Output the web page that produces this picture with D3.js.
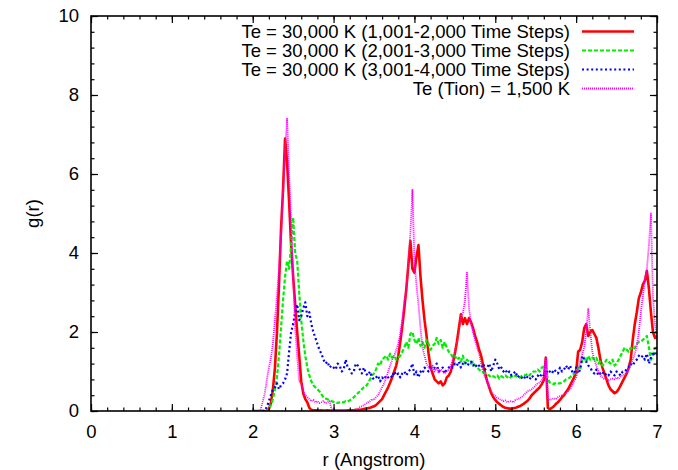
<!DOCTYPE html>
<html>
<head>
<meta charset="utf-8">
<script src="https://cdn.jsdelivr.net/npm/d3@7"></script>
<style>
  body { margin: 0; background: #fff; }
  svg text { font-family: "Liberation Sans", Arial, sans-serif; fill: #000; }
</style>
</head>
<body>
<svg id="chart" width="678" height="470"></svg>
<script>
// ---- Data ----
// every series sampled from r = 2.0 in steps of 0.025, four values per 0.1 A row
const rStart = 2.0;
const rStep = 0.025;

const seriesLabels = [
  "Te = 30,000 K (1,001-2,000 Time Steps)",
  "Te = 30,000 K (2,001-3,000 Time Steps)",
  "Te = 30,000 K (3,001-4,000 Time Steps)",
  "Te (Tion) = 1,500 K"
];

const red1 = [
  0, 0, 0, 0,            // 2.0
  0, 0, 0, 0,            // 2.1
  0.05, 0.2, 0.55, 1.1,  // 2.2
  2.0, 3.2, 4.6, 5.6,    // 2.3
  6.9, 6.3, 5.3, 4.2,    // 2.4
  3.4, 2.7, 2.0, 1.4,    // 2.5
  0.75, 0.45, 0.3, 0.22, // 2.6
  0.08, 0.03, 0.02, 0.02,
  0.02, 0.01, 0.02, 0.01,
  0.01, 0.02, 0.01, 0.01,
  0.01, 0.01, 0.01, 0.01, // 3.0
  0.01, 0.01, 0.01, 0.02,
  0.02, 0.02, 0.02, 0.03,
  0.03, 0.03, 0.04, 0.05,
  0.06, 0.07, 0.08, 0.1,
  0.12, 0.15, 0.2, 0.25,  // 3.5
  0.3, 0.4, 0.5, 0.6,
  0.72, 0.85, 1.0, 1.15,
  1.4, 1.75, 2.15, 2.6,
  3.1, 3.7, 4.3, 3.6,
  3.5, 3.9, 4.2, 3.4,     // 4.0
  2.8, 2.3, 1.9, 1.45,
  1.1, 0.95, 0.8, 0.75,
  0.7, 0.75, 0.65, 0.7,
  0.85, 0.9, 1.0, 1.2,
  1.45, 1.75, 2.1, 2.45,  // 4.5
  2.2, 2.35, 2.2, 2.35,
  2.25, 2.1, 1.9, 1.75,
  1.55, 1.4, 1.15, 0.95,
  0.75, 0.6, 0.45, 0.35,
  0.28, 0.22, 0.18, 0.14, // 5.0
  0.1, 0.08, 0.07, 0.06,
  0.06, 0.07, 0.08, 0.1,
  0.12, 0.15, 0.18, 0.22,
  0.26, 0.32, 0.4, 0.45,
  0.5, 0.55, 0.6, 0.68,   // 5.5
  0.78, 1.35, 0.08, 0.05,
  0.08, 0.12, 0.18, 0.22,
  0.28, 0.35, 0.4, 0.48,
  0.55, 0.65, 0.75, 0.85,
  1.0, 1.5, 1.55, 1.75,   // 6.0
  2.1, 2.2, 1.9, 2.0,
  2.05, 1.95, 1.85, 1.6,
  1.3, 1.1, 0.95, 0.8,
  0.65, 0.55, 0.5, 0.45,
  0.48, 0.55, 0.65, 0.75, // 6.5
  0.85, 0.95, 1.1, 1.3,
  1.8, 2.2, 2.5, 2.85,
  3.0, 3.2, 3.3, 3.55,
  3.1, 2.5, 2.0, 1.85,
  1.9                     // 7.0
];

const green2 = [
  0, 0, 0, 0,
  0, 0, 0, 0,
  0.05, 0.15, 0.3, 0.55,
  0.85, 1.4, 2.1, 2.8,
  3.4, 3.8, 3.6, 4.2,
  4.9, 4.0, 3.8, 3.0,
  2.3, 1.8, 1.4, 1.1,
  0.9, 0.75, 0.65, 0.6,
  0.55, 0.5, 0.42, 0.35,
  0.32, 0.3, 0.27, 0.25,
  0.23, 0.22, 0.2, 0.22,  // 3.0
  0.23, 0.22, 0.25, 0.24,
  0.27, 0.3, 0.35, 0.4,
  0.45, 0.5, 0.55, 0.6,
  0.62, 0.7, 0.8, 0.9,
  0.95, 1.05, 1.2, 1.15,
  1.3, 1.35, 1.4, 1.3,
  1.45, 1.35, 1.4, 1.3,
  1.35, 1.4, 1.5, 1.6,
  1.75, 1.6, 1.95, 2.0,
  1.8, 1.7, 1.85, 1.65,   // 4.0
  1.75, 1.6, 1.8, 1.7,
  1.55, 1.65, 1.7, 1.85,
  1.7, 1.8, 1.6, 1.75,
  1.6, 1.5, 1.45, 1.35,
  1.4, 1.3, 1.35, 1.25,
  1.4, 1.2, 1.3, 1.25,
  1.2, 1.25, 1.15, 1.1,
  1.05, 1.0, 0.98, 0.95,
  0.92, 0.9, 0.85, 0.88,
  0.85, 0.9, 0.82, 0.88,  // 5.0
  0.85, 0.9, 0.86, 0.82,
  0.88, 0.85, 0.9, 0.86,
  0.84, 0.88, 0.92, 0.9,
  0.95, 0.9, 0.98, 1.0,
  1.0, 1.05, 1.0, 1.1,
  1.12, 1.08, 0.8, 0.72,
  0.7, 0.68, 0.72, 0.7,
  0.7, 0.72, 0.75, 0.8,
  0.82, 0.85, 0.9, 0.95,
  1.0, 1.1, 1.05, 1.3,    // 6.0
  1.35, 1.25, 1.4, 1.3,
  1.35, 1.3, 1.35, 1.2,
  1.25, 1.15, 1.2, 1.3,
  1.25, 1.2, 1.3, 1.15,
  1.2, 1.3, 1.4, 1.5,
  1.6, 1.55, 1.5, 1.6,
  1.55, 1.6, 1.7, 1.75,
  1.75, 1.8, 1.85, 1.9,
  1.6, 1.3, 1.4, 1.6,
  1.6
];

const blue3 = [
  0, 0, 0, 0,
  0, 0, 0.02, 0.1,
  0.25, 0.4, 0.55, 0.6,
  0.7, 0.55, 0.65, 0.7,
  0.8, 0.95, 1.5, 2.0,
  2.2, 2.5, 2.7, 2.3,
  2.4, 2.6, 2.75, 2.4,
  2.5, 2.2, 2.0, 1.85,
  1.7, 1.55, 1.45, 1.3,
  1.2, 1.25, 1.1, 1.15,
  1.1, 1.05, 1.2, 1.15,   // 3.0
  1.0, 1.05, 1.3, 1.1,
  1.05, 0.95, 1.0, 1.2,
  1.15, 1.05, 0.95, 1.1,
  0.95, 0.9, 1.0, 0.85,
  0.8, 0.85, 0.9, 0.75,
  0.85, 0.8, 0.9, 0.85,
  0.9, 0.85, 1.0, 0.9,
  0.95, 0.85, 0.95, 1.0,
  0.9, 1.0, 1.05, 1.2,
  0.9, 1.0, 0.85, 1.0,    // 4.0
  0.95, 1.1, 1.05, 1.0,
  1.15, 1.05, 1.1, 1.2,
  1.0, 1.05, 1.1, 0.95,
  1.05, 1.1, 1.15, 1.1,
  1.2, 1.15, 1.25, 1.1,
  1.2, 1.25, 1.15, 1.2,
  1.25, 1.15, 1.2, 1.1,
  1.15, 1.1, 1.2, 1.05,
  1.1, 1.2, 1.0, 1.15,
  1.3, 1.2, 1.05, 1.1,    // 5.0
  1.0, 1.05, 0.95, 1.0,
  0.9, 0.95, 1.0, 0.85,
  0.9, 0.85, 0.8, 0.9,
  0.85, 0.8, 0.9, 0.85,
  0.8, 0.9, 0.85, 0.95,
  0.9, 1.05, 0.95, 1.0,
  0.95, 1.05, 1.0, 0.95,
  1.1, 1.0, 1.05, 1.15,
  1.05, 1.15, 1.0, 0.95,
  1.1, 0.95, 1.05, 1.4,   // 6.0
  1.3, 1.25, 1.15, 1.1,
  1.0, 0.95, 1.05, 0.9,
  0.95, 1.0, 0.9, 0.95,
  0.9, 1.0, 0.95, 0.9,
  1.0, 0.95, 0.9, 1.0,
  1.0, 1.05, 1.1, 1.2,
  1.15, 1.25, 1.3, 1.4,
  1.35, 1.4, 1.3, 1.45,
  1.2, 1.35, 1.5, 1.4,
  1.5
];

const magenta4 = [
  0, 0, 0, 0,
  0.05, 0.25, 0.45, 0.8,
  1.1, 1.35, 1.7, 2.3,
  2.9, 3.6, 4.4, 5.5,
  6.6, 7.4, 6.0, 4.8,
  3.4, 2.1, 1.4, 0.75,
  0.7, 0.5, 0.4, 0.35,
  0.3, 0.25, 0.28, 0.22,
  0.25, 0.2, 0.22, 0.25,
  0.2, 0.22, 0.25, 0.05,
  0, 0, 0, 0,             // 3.0
  0, 0, 0, 0,
  0, 0, 0, 0.02,
  0.05, 0.1, 0.12, 0.15,
  0.18, 0.22, 0.25, 0.3,
  0.28, 0.35, 0.4, 0.5,
  0.6, 0.7, 0.85, 1.0,
  1.15, 1.3, 1.4, 1.55,
  1.7, 1.95, 2.3, 2.8,
  3.0, 3.8, 4.5, 5.6,
  3.8, 3.2, 2.7, 2.1,     // 4.0
  1.6, 1.4, 1.2, 1.1,
  1.05, 1.15, 1.0, 1.1,
  0.95, 1.05, 1.0, 0.95,
  1.0, 1.05, 1.15, 1.3,
  1.5, 1.7, 2.0, 2.4,
  2.5, 2.8, 3.5, 2.6,
  2.2, 2.0, 1.8, 1.6,
  1.45, 1.2, 1.0, 0.85,
  0.75, 0.6, 0.5, 0.42,
  0.38, 0.33, 0.3, 0.28,  // 5.0
  0.25, 0.27, 0.22, 0.24,
  0.25, 0.22, 0.28, 0.3,
  0.32, 0.35, 0.4, 0.45,
  0.5, 0.52, 0.55, 0.6,
  0.65, 0.7, 0.72, 0.78,
  0.85, 1.35, 0.3, 0.28,
  0.3, 0.32, 0.3, 0.35,
  0.38, 0.4, 0.42, 0.45,
  0.5, 0.55, 0.65, 0.75,
  0.85, 1.05, 1.25, 1.45, // 6.0
  1.6, 2.0, 2.6, 2.0,
  1.5, 1.3, 1.15, 1.0,
  0.9, 0.85, 0.8, 0.82,
  0.78, 0.8, 0.82, 0.8,
  0.85, 0.82, 0.88, 0.9,
  0.92, 0.98, 1.05, 1.15,
  1.3, 1.45, 1.65, 2.0,
  2.5, 2.9, 3.3, 3.6,
  4.2, 5.0, 2.9, 2.2,
  1.8
];

const xTicks = [0, 1, 2, 3, 4, 5, 6, 7];
const yTicks = [0, 2, 4, 6, 8, 10];

// ---- Layout ----
const width = 678, height = 470;
const margin = { top: 16, right: 21, bottom: 59, left: 91 };
const svg = d3.select("#chart");

const x = d3.scaleLinear().domain([0, 7]).range([margin.left, width - margin.right]);
const y = d3.scaleLinear().domain([0, 10]).range([height - margin.bottom, margin.top]);

// gnuplot-ish line styles, drawn in plot order
const styles = [
  { vals: red1,     color: "#ff0000", w: 2.6, dash: null },
  { vals: green2,   color: "#00ee00", w: 2.2, dash: "4,2" },
  { vals: blue3,    color: "#0000ff", w: 2.2, dash: "2,2.6" },
  { vals: magenta4, color: "#ff00ff", w: 1.8, dash: "1,1" }
];

svg.append("defs").append("clipPath").attr("id", "plotclip")
  .append("rect")
  .attr("x", margin.left).attr("y", margin.top)
  .attr("width", width - margin.left - margin.right)
  .attr("height", height - margin.top - margin.bottom);

let line = d3.line()
  .x(d => x(d[0]))
  .y(d => y(d[1]));

let plot = svg.append("g").attr("clip-path", "url(#plotclip)");
styles.forEach(s => {
  let pts = s.vals.map((v, i) => [rStart + i * rStep, v]);
  plot.append("path")
    .datum(pts)
    .attr("d", line)
    .attr("fill", "none")
    .attr("stroke", s.color)
    .attr("stroke-width", s.w)
    .attr("stroke-dasharray", s.dash)
    .attr("stroke-linejoin", "round");
});

// ---- Axes: inward ticks on all four sides ----
const xMinor = d3.range(0, 7.001, 0.2);
const yMinor = d3.range(0, 10.001, 0.4);
const bottomY = height - margin.bottom;
const rightX = width - margin.right;

function tickAxis(gen, tr, vals, size, labels) {
  let g = svg.append("g").attr("transform", tr)
    .call(gen.tickValues(vals).tickSize(size).tickFormat(labels ? d3.format("d") : ""));
  g.select(".domain").remove();
  g.selectAll("line").attr("stroke", "#000").attr("stroke-width", 1.2);
  return g;
}

tickAxis(d3.axisBottom(x), `translate(0,${bottomY})`, xMinor, -3.5, false);
tickAxis(d3.axisTop(x), `translate(0,${margin.top})`, xMinor, -3.5, false);
tickAxis(d3.axisLeft(y), `translate(${margin.left},0)`, yMinor, -3.5, false);
tickAxis(d3.axisRight(y), `translate(${rightX},0)`, yMinor, -3.5, false);

let xg = tickAxis(d3.axisBottom(x), `translate(0,${bottomY})`, xTicks, -7, true);
xg.selectAll("text").attr("font-size", 18.5).attr("y", 14).attr("dy", "0.71em");
tickAxis(d3.axisTop(x), `translate(0,${margin.top})`, xTicks, -7, false);
let yg = tickAxis(d3.axisLeft(y), `translate(${margin.left},0)`, yTicks, -7, true);
yg.selectAll("text").attr("font-size", 18.5).attr("x", -12);
tickAxis(d3.axisRight(y), `translate(${rightX},0)`, yTicks, -7, false);

// frame on top
svg.append("rect")
  .attr("x", margin.left).attr("y", margin.top)
  .attr("width", rightX - margin.left)
  .attr("height", bottomY - margin.top)
  .attr("fill", "none").attr("stroke", "#000").attr("stroke-width", 1.6);

// axis titles
svg.append("text")
  .attr("x", (margin.left + rightX) / 2).attr("y", 460)
  .attr("text-anchor", "middle").attr("dy", "0.35em")
  .attr("font-size", 18.5)
  .text("r (Angstrom)");

svg.append("text")
  .attr("transform", `translate(33,${(margin.top + bottomY) / 2}) rotate(-90)`)
  .attr("text-anchor", "middle").attr("dy", "0.35em")
  .attr("font-size", 18.5)
  .text("g(r)");

// ---- Legend (top right, gnuplot style) ----
let legend = svg.append("g");
seriesLabels.forEach((label, i) => {
  let ly = 31.5 + i * 19;
  legend.append("text")
    .attr("x", 570).attr("y", ly).attr("dy", "0.35em")
    .attr("text-anchor", "end").attr("font-size", 18.5)
    .text(label);
  legend.append("line")
    .attr("x1", 582).attr("x2", 634).attr("y1", ly).attr("y2", ly)
    .attr("stroke", styles[i].color)
    .attr("stroke-width", styles[i].w)
    .attr("stroke-dasharray", styles[i].dash);
});
</script>
</body>
</html>
